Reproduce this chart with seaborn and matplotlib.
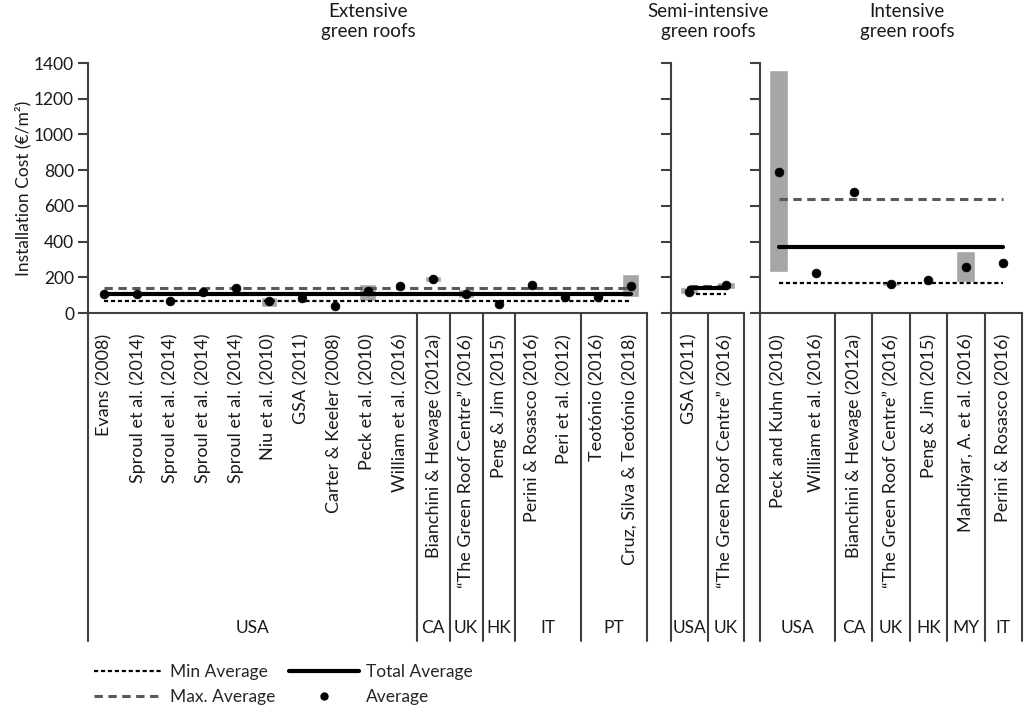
import numpy as np
import matplotlib.pyplot as plt
import seaborn as sns
from matplotlib.lines import Line2D

sns.set_theme(style='white')
plt.rcParams['font.family'] = ['Lato', 'DejaVu Sans']
plt.rcParams['lines.scale_dashes'] = False

GRC = '\u201cThe Green Roof Centre\u201d (2016)'

# Extensive green roofs
ext_labels = ['Evans (2008)', 'Sproul et al. (2014)', 'Sproul et al. (2014)', 'Sproul et al. (2014)',
              'Sproul et al. (2014)', 'Niu et al. (2010)', 'GSA (2011)', 'Carter & Keeler (2008)',
              'Peck et al. (2010)', 'William et al. (2016)', 'Bianchini & Hewage (2012a)', GRC,
              'Peng & Jim (2015)', 'Perini & Rosasco (2016)', 'Peri et al. (2012)', 'Teotónio (2016)',
              'Cruz, Silva & Teotónio (2018)']
ext_avg = [105, 105, 67, 116, 138, 69, 82, 39, 122, 151, 191, 105, 48, 158, 88, 90, 151]
ext_lo = [np.nan, np.nan, np.nan, np.nan, np.nan, 35, np.nan, np.nan, 69, np.nan, 172, 86, np.nan, np.nan, np.nan, np.nan, 91]
ext_hi = [np.nan, np.nan, np.nan, np.nan, np.nan, 91, np.nan, np.nan, 160, np.nan, 209, 132, np.nan, np.nan, np.nan, np.nan, 218]
ext_lines = [69, 106, 138]  # min, total, max
ext_groups = [('USA', 10), ('CA', 1), ('UK', 1), ('HK', 1), ('IT', 2), ('PT', 2)]

# Semi-intensive green roofs
semi_labels = ['GSA (2011)', GRC]
semi_avg = [119, 155]
semi_lo = [108, 136]
semi_hi = [146, 174]
semi_lines = [108, 140, 152]
semi_groups = [('USA', 1), ('UK', 1)]

# Intensive green roofs
int_labels = ['Peck and Kuhn (2010)', 'William et al. (2016)', 'Bianchini & Hewage (2012a)', GRC,
              'Peng & Jim (2015)', 'Mahdiyar, A. et al. (2016)', 'Perini & Rosasco (2016)']
int_avg = [788, 226, 679, 160, 184, 259, 282]
int_lo = [231, np.nan, np.nan, 150, np.nan, 172, np.nan]
int_hi = [1361, np.nan, np.nan, 175, np.nan, 347, np.nan]
int_lines = [170, 371, 640]
int_groups = [('USA', 2), ('CA', 1), ('UK', 1), ('HK', 1), ('MY', 1), ('IT', 1)]

W, H = 1024, 711
fig = plt.figure(figsize=(W / 100, H / 100), dpi=100)

axis_col = '#404040'
label_bottom = -1.31  # how far the category box goes below the axis (axes fraction)


def panel(left_px, right_px, labels, avg, lo, hi, lines, groups, show_y):
    ax = fig.add_axes([left_px / W, (H - 313) / H, (right_px - left_px) / W, 250 / H])
    n = len(labels)
    x = np.arange(n)
    lo = np.array(lo, dtype=float)
    hi = np.array(hi, dtype=float)
    m = ~np.isnan(lo)
    ax.bar(x[m], hi[m] - lo[m], bottom=lo[m], width=0.5, color='#a6a6a6', zorder=2)

    ax.plot([0, n - 1], [lines[0], lines[0]], color='black', lw=1.6, dashes=(3, 2), zorder=3)
    ax.plot([0, n - 1], [lines[2], lines[2]], color='#595959', lw=2.2, dashes=(6, 4), zorder=3)
    ax.plot([0, n - 1], [lines[1], lines[1]], color='black', lw=3, zorder=3)

    sns.scatterplot(x=x, y=avg, ax=ax, color='black', s=40, edgecolor='black', zorder=5, legend=False)

    ax.set_xlim(-0.5, n - 0.5)
    ax.set_ylim(0, 1400)
    ax.set_yticks(range(0, 1401, 200))
    ax.set_xticks(x)
    ax.set_xticklabels(labels, rotation=90, ha='center', va='top', fontsize=13, color='#1a1a1a')
    ax.tick_params(axis='x', length=0, pad=15)
    ax.tick_params(axis='y', length=7, width=1.5, color=axis_col, direction='out', left=True,
                   labelsize=12.5, labelcolor='#1a1a1a', labelleft=show_y, pad=3)
    for s in ['top', 'right']:
        ax.spines[s].set_visible(False)
    for s in ['left', 'bottom']:
        ax.spines[s].set_color(axis_col)
        ax.spines[s].set_linewidth(1.5)
    ax.set_ylabel('')

    tr = ax.get_xaxis_transform()
    # vertical lines of the category box
    edges = [-0.5]
    pos = -0.5
    for name, k in groups:
        ax.text(pos + k / 2, -1.26, name, transform=tr, ha='center', va='center',
                fontsize=12.5, color='#1a1a1a')
        pos += k
        edges.append(pos)
    for e in edges:
        ax.plot([e, e], [0, label_bottom], transform=tr, color=axis_col, lw=1.5, clip_on=False)
    return ax


ax1 = panel(88, 647, ext_labels, ext_avg, ext_lo, ext_hi, ext_lines, ext_groups, True)
ax2 = panel(671, 744, semi_labels, semi_avg, semi_lo, semi_hi, semi_lines, semi_groups, False)
ax3 = panel(760, 1022, int_labels, int_avg, int_lo, int_hi, int_lines, int_groups, False)

ax1.set_ylabel('Installation Cost (\u20ac/m\u00b2)', fontsize=12.5, color='#1a1a1a', labelpad=2)

fig.text(368 / W, 1 - 3 / H, 'Extensive\ngreen roofs', ha='center', va='top', fontsize=13.5, color='#1a1a1a', linespacing=1.2)
fig.text(708 / W, 1 - 3 / H, 'Semi-intensive\ngreen roofs', ha='center', va='top', fontsize=13.5, color='#1a1a1a', linespacing=1.2)
fig.text(907 / W, 1 - 3 / H, 'Intensive\ngreen roofs', ha='center', va='top', fontsize=13.5, color='#1a1a1a', linespacing=1.2)

handles = [
    Line2D([], [], color='black', lw=1.6, dashes=(3, 2)),
    Line2D([], [], color='#595959', lw=2.2, dashes=(6, 4)),
    Line2D([], [], color='black', lw=3),
    Line2D([], [], color='black', marker='o', markersize=5, lw=0),
]
names = ['Min Average', 'Max. Average', 'Total Average', 'Average']
fig.legend(handles, names, loc='upper left', bbox_to_anchor=(78 / W, 1 - 648 / H), ncol=2,
           frameon=False, handlelength=4, fontsize=12.5, columnspacing=0.8, labelspacing=0.55,
           handletextpad=0.4)

fig.savefig('out.png', dpi=100)
